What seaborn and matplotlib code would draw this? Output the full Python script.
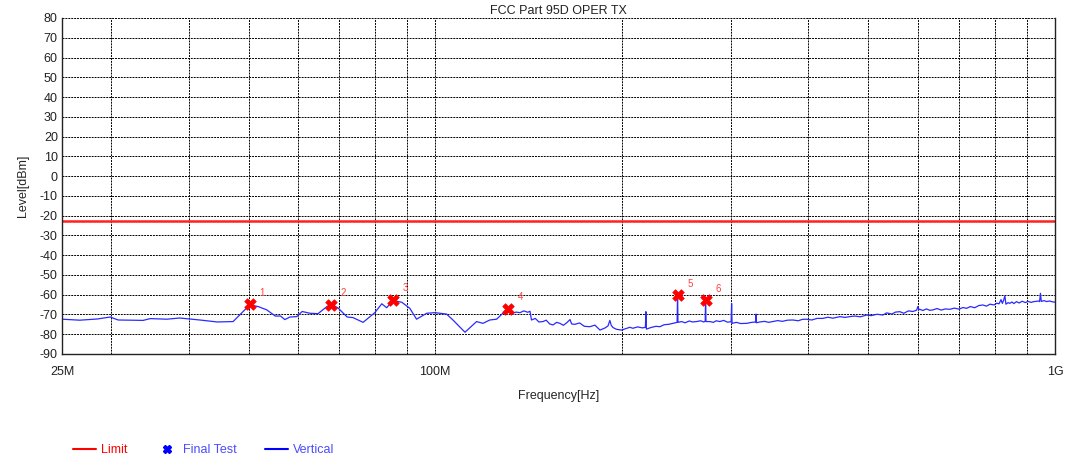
import numpy as np
import pandas as pd
import seaborn as sns
import matplotlib.pyplot as plt
from matplotlib.lines import Line2D

freq_mhz = [25, 26.7, 28.5, 29.9, 30.8, 33.8, 34.7, 36.9, 38.7, 41.7, 44.5, 47.2,
            50.2, 51.8, 53.5, 55.2, 56.3, 57.2, 58.3, 59.8, 61.0, 62.8, 64.7, 66.9,
            67.9, 69.7, 72.1, 73.7, 76.5, 79.9, 82.0, 83.5, 85.4, 88.3, 91.0, 93.3,
            96.9, 99.9, 104.3, 106.8, 111.7, 116.6, 119.4, 122.5, 125.6, 131.0,
            133, 135, 137, 139, 141, 142.2, 143, 145, 147, 149.2, 151, 153, 154.9,
            157, 158.9, 161, 163, 165, 166, 168, 171, 174, 177.6, 181, 184.4, 188,
            190, 191.3, 192.3, 193.5, 196, 199.8, 203, 206, 208.4, 212, 216, 218.3,
            218.7, 219.1, 223, 227, 230.4, 234, 238, 241.8, 244, 245.6, 246, 246.4,
            249.7, 253, 257, 260, 264, 268, 271, 272.6, 273, 273.4, 277.5, 281, 284,
            287.8, 292, 296, 300.2, 300.7, 301.2, 306, 311, 318, 324, 328.8, 329.2,
            329.6, 334, 340, 345, 350.5, 357, 363, 370, 377.5, 385, 391, 397, 405,
            413, 422, 430, 438, 449.6, 458, 466.5, 475, 485, 496.5, 505, 516, 527.5,
            535, 545, 553, 561.8, 570, 580, 590, 598, 600.7, 603, 605, 612, 620, 628,
            635, 645, 655, 665, 676.5, 688, 700, 710, 719.7, 730, 742, 753, 764.7,
            775, 785, 797, 805, 812, 818, 822, 826, 829.8, 833, 840, 845, 852, 858,
            866.5, 875, 885, 895, 905, 915, 920.6, 940, 944, 947, 950, 960, 968.8,
            980, 990, 1000]
level_dbm = [-72.4, -72.9, -72.3, -71.3, -72.8, -73.0, -72.1, -72.4, -71.8, -72.8, -73.8, -73.6,
             -65.2, -66.0, -67.7, -70.8, -70.8, -72.6, -71.3, -71.1, -68.5, -69.4, -69.6, -66.0,
             -64.8, -66.7, -71.3, -71.6, -74.0, -69.1, -64.6, -66.6, -63.0, -63.8, -66.9, -72.4,
             -69.4, -69.1, -69.8, -72.8, -79.0, -73.6, -74.5, -72.8, -72.4, -67.0,
             -69.5, -68.8, -69.1, -68.2, -68.9, -68.4, -72.8, -72.0, -73.8, -73.6, -72.9, -74.8, -75.3,
             -74.0, -74.5, -75.5, -74.2, -72.6, -74.8, -75.0, -74.3, -76.0, -76.2, -75.4, -77.9, -76.8,
             -75.8, -73.0, -75.5, -76.6, -77.5, -77.9, -77.2, -76.5, -77.0, -76.3, -76.8, -76.5,
             -68.6, -77.4, -76.6, -76.0, -76.2, -75.2, -75.0, -74.5, -74.2, -74.0, -60.1, -74.0,
             -73.6, -74.2, -73.3, -73.8, -73.6, -73.2, -73.8, -73.5, -62.7, -73.6, -73.6, -74.0, -73.2,
             -73.6, -73.0, -73.9, -73.7, -64.4, -74.5, -74.0, -74.6, -74.5, -74.0, -73.8, -69.8,
             -74.2, -73.8, -73.5, -74.0, -73.6, -73.1, -73.5, -72.9, -72.8, -73.2, -72.5, -72.4, -72.8,
             -72.0, -72.0, -71.4, -71.9, -71.1, -71.5, -71.1, -70.8, -71.2, -70.3, -70.6, -69.9, -70.3,
             -69.2, -69.8, -68.8, -68.6, -69.4, -68.2, -68.5, -67.8, -66.0, -67.6, -67.4, -68.0, -67.2, -67.9,
             -67.7, -67.0, -67.8, -67.2, -67.4, -66.8, -67.3, -66.5, -66.9, -66.0, -66.6, -65.5, -65.2,
             -65.8, -64.8, -65.2, -64.3, -64.6, -62.5, -64.4, -62.8, -60.6, -64.8, -64.0, -64.4, -63.7, -64.5,
             -63.5, -64.2, -63.3, -64.0, -63.4, -63.9, -63.6, -63.2, -63.5, -59.3, -63.4, -63.0, -63.5,
             -63.2, -63.6, -63.8]

# Final test points
final_freq = [50.2, 67.9, 85.4, 131.0, 246.0, 273.0]
final_level = [-64.7, -65.0, -62.6, -67.0, -60.1, -62.7]
final_labels = ['1', '2', '3', '4', '5', '6']

# Limit line
limit_freq = [25, 1000]
limit_level = [-22.5, -22.5]

trace = pd.DataFrame({'freq': freq_mhz, 'level': level_dbm})
finals = pd.DataFrame({'freq': final_freq, 'level': final_level})
limit = pd.DataFrame({'freq': limit_freq, 'level': limit_level})

sns.set_style('white')
plt.rcParams['font.family'] = ['Liberation Sans', 'DejaVu Sans']
plt.rcParams['axes.unicode_minus'] = False

fig = plt.figure(figsize=(10.69, 4.59), dpi=100)
ax = fig.add_axes([0.058, 0.2288, 0.929, 0.732])

sns.lineplot(data=limit, x='freq', y='level', color='#ff2020', linewidth=1.8, ax=ax)
sns.lineplot(data=trace, x='freq', y='level', color='#2a2aff', linewidth=0.9,
             sort=False, estimator=None, ax=ax)
sns.scatterplot(data=finals, x='freq', y='level', marker='X', color='red', s=70,
                edgecolor='red', linewidth=0.5, zorder=5, ax=ax)
for f, l, t in zip(final_freq, final_level, final_labels):
    ax.annotate(t, (f, l), xytext=(7, 6), textcoords='offset points',
                color='#ff4040', fontsize=7)

ax.set_xscale('log')
ax.set_xlim(25, 1000)
ax.set_ylim(-90, 80)
grid_x = [30, 40, 50, 60, 70, 80, 90, 100, 200, 300, 400, 500, 600, 700, 800, 900]
ax.set_xticks([25, 100, 1000])
ax.set_xticklabels(['25M', '100M', '1G'])
ax.set_xticks(grid_x, minor=True)
ax.xaxis.set_minor_formatter(plt.NullFormatter())
ax.set_yticks(np.arange(-90, 81, 10))
ax.tick_params(axis='both', length=0, labelsize=9, colors='#222222')
ax.tick_params(axis='x', pad=9)
ax.tick_params(axis='y', pad=3)
ax.grid(True, which='both', axis='x', color='black', linestyle=(0, (2, 1)), linewidth=0.7)
ax.grid(True, which='major', axis='y', color='black', linestyle=(0, (2, 1)), linewidth=0.7)
for s in ['left', 'bottom', 'right']:
    ax.spines[s].set_color('#222222')
    ax.spines[s].set_linewidth(1.0)
ax.spines['top'].set_visible(False)

ax.set_xlabel('Frequency[Hz]', fontsize=9, labelpad=8)
ax.set_ylabel('Level[dBm]', fontsize=9, labelpad=8)
ax.set_title('FCC Part 95D OPER TX', fontsize=9, pad=3, color='#222222')

handles = [Line2D([], [], color='red', linewidth=1.5),
           Line2D([], [], color='blue', marker='X', linestyle='None', markersize=6),
           Line2D([], [], color='blue', linewidth=1.5)]
fig.legend(handles, ['Limit', 'Final Test', 'Vertical'], loc='lower left',
           bbox_to_anchor=(0.058, -0.018), ncol=3, frameon=False, fontsize=9,
           handlelength=1.84, columnspacing=2.2, handletextpad=0.4,
           labelcolor=['red', '#4b4bff', '#4b4bff'])

fig.savefig('out.png', dpi=100)
